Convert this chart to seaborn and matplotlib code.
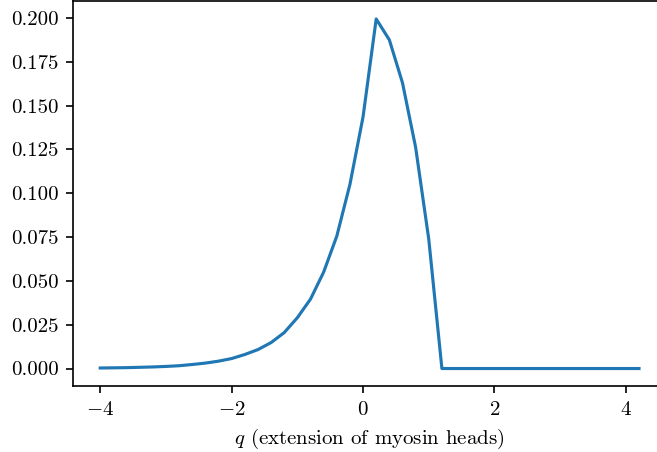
import numpy as np
import pandas as pd
import seaborn as sns
import matplotlib.pyplot as plt

# values
q = [-4.0, -3.8, -3.6, -3.4, -3.2, -3.0, -2.8, -2.6, -2.4, -2.2,
     -2.0, -1.8, -1.6, -1.4, -1.2, -1.0, -0.8, -0.6, -0.4, -0.2,
     0.0, 0.2, 0.4, 0.6, 0.8, 1.0, 1.2, 1.4, 1.6, 1.8,
     2.0, 2.2, 2.4, 2.6, 2.8, 3.0, 3.2, 3.4, 3.6, 3.8,
     4.0, 4.2]
density = [0.0003, 0.0004, 0.0005, 0.0007, 0.0009, 0.0012, 0.0016, 0.0023, 0.0031, 0.0042,
           0.0057, 0.0080, 0.0108, 0.0148, 0.0205, 0.0290, 0.0396, 0.0550, 0.0755, 0.1050,
           0.1436, 0.1994, 0.1875, 0.1630, 0.1262, 0.0738, 0.0, 0.0, 0.0, 0.0,
           0.0, 0.0, 0.0, 0.0, 0.0, 0.0, 0.0, 0.0, 0.0, 0.0,
           0.0, 0.0]

df = pd.DataFrame({"q": q, "n": density})

plt.rcParams["font.family"] = "serif"
plt.rcParams["font.serif"] = ["cmr10"]
plt.rcParams["mathtext.fontset"] = "cm"
plt.rcParams["axes.formatter.use_mathtext"] = True
plt.rcParams["font.size"] = 10

fig = plt.figure(figsize=(657 / 150, 452 / 150), dpi=150)
ax = fig.add_axes([0.1116, 0.146, 0.902, 0.8507])
sns.lineplot(data=df, x="q", y="n", ax=ax, color="#1f77b4", linewidth=1.5)
ax.set_xlabel("$q$ (extension of myosin heads)")
ax.set_ylabel("")
ax.set_xticks([-4, -2, 0, 2, 4])
ax.set_yticks(np.arange(0, 0.201, 0.025))
ax.yaxis.set_major_formatter(plt.FormatStrFormatter("%.3f"))

fig.savefig("out.png", dpi=150)
